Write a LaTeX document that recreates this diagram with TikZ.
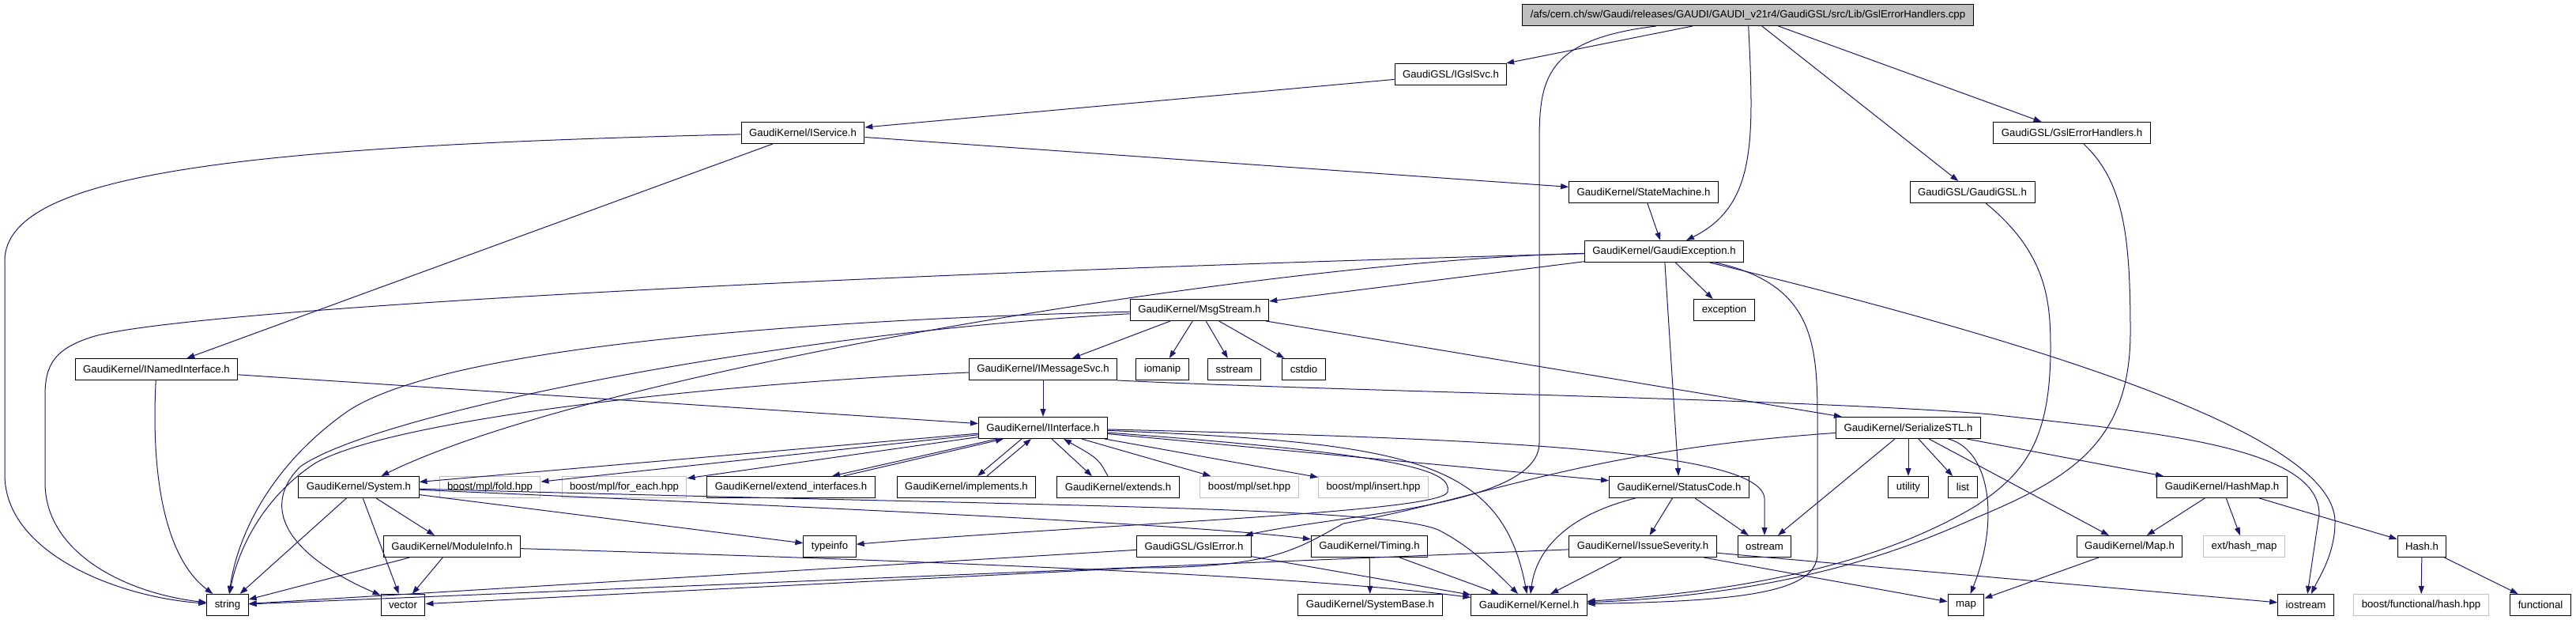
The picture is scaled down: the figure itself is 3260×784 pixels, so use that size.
\documentclass[tikz,border=0pt]{standalone}
\usepackage{fontspec}
\setmainfont{Liberation Sans}
\usetikzlibrary{arrows.meta}

\definecolor{edgeblue}{HTML}{191970}
\definecolor{boxgray}{HTML}{BFBFBF}

\begin{document}
\begin{tikzpicture}[x=1pt,y=-1pt,
  filebox/.style={draw=black, fill=white, line width=1pt, minimum height=27pt,
    inner xsep=10pt, inner ysep=0pt, font=\fontsize{13.2}{15}\selectfont},
  sysbox/.style={filebox, draw=boxgray},
  topbox/.style={filebox, fill=boxgray},
  dep/.style={draw=edgeblue, line width=1pt, -{Triangle[length=10pt,width=7pt]}}]

\useasboundingbox (0,0) rectangle (3260,784);

% Row 0: the source file
\node[topbox] (cpp) at (2212,19) {/afs/cern.ch/sw/Gaudi/releases/GAUDI/GAUDI\_v21r4/GaudiGSL/src/Lib/GslErrorHandlers.cpp};

% Rows 1 to 4
\node[filebox] (igslsvc) at (1836,94) {GaudiGSL/IGslSvc.h};
\node[filebox] (iservice) at (1016,168) {GaudiKernel/IService.h};
\node[filebox] (gslerrh) at (2622,168) {GaudiGSL/GslErrorHandlers.h};
\node[filebox] (statemachine) at (2080,243) {GaudiKernel/StateMachine.h};
\node[filebox] (gaudigsl) at (2496,243) {GaudiGSL/GaudiGSL.h};
\node[filebox] (gaudiexc) at (2106,318) {GaudiKernel/GaudiException.h};

% Row 5
\node[filebox] (msgstream) at (1518,392) {GaudiKernel/MsgStream.h};
\node[filebox] (exception) at (2182,392) {exception};

% Row 6
\node[filebox] (inamed) at (198,467) {GaudiKernel/INamedInterface.h};
\node[filebox] (imsgsvc) at (1320,467) {GaudiKernel/IMessageSvc.h};
\foreach \nd/\x in {iomanip/1471, sstream/1562, cstdio/1650}
  \node[filebox] (\nd) at (\x,467) {\nd};

% Row 7
\node[filebox] (iinterface) at (1320,541) {GaudiKernel/IInterface.h};
\node[filebox] (serialize) at (2415,541) {GaudiKernel/SerializeSTL.h};

% Row 8
\node[filebox] (system) at (454,616) {GaudiKernel/System.h};
\node[sysbox] (mplfold) at (620,616) {boost/mpl/fold.hpp};
\node[sysbox] (mplforeach) at (790,616) {boost/mpl/for\_each.hpp};
\node[filebox] (extendif) at (1001,616) {GaudiKernel/extend\_interfaces.h};
\node[filebox] (implements) at (1223,616) {GaudiKernel/implements.h};
\node[filebox] (extends) at (1415,616) {GaudiKernel/extends.h};
\node[sysbox] (mplset) at (1581,616) {boost/mpl/set.hpp};
\node[sysbox] (mplinsert) at (1738,616) {boost/mpl/insert.hpp};
\node[filebox] (statuscode) at (2125,616) {GaudiKernel/StatusCode.h};
\foreach \nd/\x in {utility/2415, list/2484}
  \node[filebox] (\nd) at (\x,616) {\nd};
\node[filebox] (hashmap) at (2812,616) {GaudiKernel/HashMap.h};

% Row 9
\node[filebox] (moduleinfo) at (572,691) {GaudiKernel/ModuleInfo.h};
\foreach \nd/\x in {typeinfo/1050, ostream/2233}
  \node[filebox] (\nd) at (\x,691) {\nd};
\node[filebox] (gslerror) at (1511,691) {GaudiGSL/GslError.h};
\node[filebox] (timing) at (1733,691) {GaudiKernel/Timing.h};
\node[filebox] (issue) at (2079,691) {GaudiKernel/IssueSeverity.h};
\node[filebox] (mapheader) at (2695,691) {GaudiKernel/Map.h};
\node[sysbox] (exthashmap) at (2840,691) {ext/hash\_map};
\node[filebox] (hash) at (3065,691) {Hash.h};

% Row 10: bottom row
\foreach \nd/\x in {string/288, vector/510, map/2488, iostream/2918, functional/3215}
  \node[filebox] (\nd) at (\x,765) {\nd};
\node[filebox] (systembase) at (1734,765) {GaudiKernel/SystemBase.h};
\node[filebox] (kernel) at (1935,765) {GaudiKernel/Kernel.h};
\node[sysbox] (boosthash) at (3064,765) {boost/functional/hash.hpp};

% Straight includes
\foreach \a/\b in {cpp/igslsvc, cpp/gaudigsl, cpp/gslerrh, igslsvc/iservice,
    iservice/inamed, iservice/statemachine, statemachine/gaudiexc,
    gaudiexc/msgstream, gaudiexc/exception, gaudiexc/statuscode,
    msgstream/imsgsvc, msgstream/iomanip, msgstream/sstream, msgstream/cstdio,
    msgstream/serialize, imsgsvc/iinterface, inamed/iinterface,
    iinterface/system, iinterface/mplfold, iinterface/mplforeach,
    iinterface/mplset, iinterface/mplinsert, iinterface/statuscode,
    system/string, system/vector, system/moduleinfo, system/typeinfo,
    moduleinfo/string, moduleinfo/vector, gslerror/string, gslerror/kernel,
    issue/string, timing/systembase, timing/kernel, statuscode/issue,
    statuscode/ostream, issue/kernel, issue/map, issue/iostream,
    serialize/ostream, serialize/utility, serialize/list, serialize/hashmap,
    serialize/mapheader, hashmap/mapheader, hashmap/exthashmap, hashmap/hash,
    mapheader/map, hash/boosthash, hash/functional}
  \draw[dep] (\a) -- (\b);

% Two-way includes round IInterface
\draw[dep] ([xshift=-58pt]iinterface.south) -- ([xshift=52pt]extendif.north);
\draw[dep] ([xshift=66pt]extendif.north) -- ([xshift=-50pt]iinterface.south);
\draw[dep] ([xshift=-27pt]iinterface.south) -- ([xshift=14pt]implements.north);
\draw[dep] ([xshift=26pt]implements.north) -- ([xshift=-15pt]iinterface.south);
\draw[dep] ([xshift=11pt]iinterface.south) -- ([xshift=-33pt]extends.north);
\draw[dep] ([xshift=-13pt]extends.north) .. controls (1390,580) .. ([xshift=26pt]iinterface.south);

% Long curved includes
\draw[dep] (cpp) .. controls (2220,180) and (2222,260) .. (gaudiexc);
\draw[dep] (cpp) .. controls (1955,50) and (1948,100) .. (1948,180) -- (1948,560)
  .. controls (1948,640) and (1700,650) .. (gslerror);
\draw[dep] (iservice) .. controls (300,185) and (6,220) .. (6,330) -- (6,600)
  .. controls (6,700) and (150,755) .. (string);
\draw[dep] (gaudiexc) .. controls (1100,345) and (250,390) .. (120,425)
  .. controls (70,440) and (57,460) .. (57,500) -- (57,610)
  .. controls (57,700) and (160,750) .. (string);
\draw[dep] (gaudiexc) .. controls (1600,330) and (750,470) .. (system);
\draw[dep] (gaudiexc) .. controls (2300,360) and (2300,440) .. (2300,540) -- (2300,700)
  .. controls (2300,750) and (2200,760) .. (kernel);
\draw[dep] (gaudiexc) .. controls (2650,450) and (2955,560) .. (2955,660)
  .. controls (2955,700) and (2935,730) .. (iostream);
\draw[dep] (imsgsvc.south east) .. controls (1700,495) and (2300,505) .. (2520,524)
  .. controls (2700,545) and (2935,560) .. (2935,650) -- (iostream);
\draw[dep] (inamed) .. controls (190,620) and (215,710) .. (string);
\draw[dep] (msgstream) .. controls (1000,405) and (560,440) .. (440,520)
  .. controls (340,590) and (300,680) .. (string);
\draw[dep] (msgstream) .. controls (1000,420) and (480,520) .. (380,590)
  .. controls (330,640) and (360,700) .. (vector);
\draw[dep] (imsgsvc) .. controls (900,485) and (500,530) .. (400,585)
  .. controls (330,630) and (300,700) .. (string);
\draw[dep] (iinterface) .. controls (1900,555) and (2228,570) .. (2233,630) -- (ostream);
\draw[dep] (iinterface) .. controls (1780,560) and (1900,580) .. (kernel);
\draw[dep] (iinterface) .. controls (1780,575) and (1838,595) .. (1832,622)
  .. controls (1825,648) and (1400,662) .. (typeinfo);
\draw[dep] (system) .. controls (1000,640) and (1500,662) .. (timing);
\draw[dep] (system) .. controls (1300,640) and (1750,640) .. (1820,670)
  .. controls (1860,690) and (1890,720) .. (kernel);
\draw[dep] (moduleinfo) .. controls (1200,710) and (1650,728) .. (kernel);
\draw[dep] (statuscode) .. controls (1990,650) and (1945,690) .. (kernel);
\draw[dep] (serialize) .. controls (2520,570) and (2530,660) .. (map);
\draw[dep] (serialize) .. controls (2000,570) and (1880,630) .. (1700,662)
  .. controls (1640,695) and (1610,718) .. (1440,718) -- (vector);
\draw[dep] (gaudigsl) .. controls (2590,320) and (2595,380) .. (2595,440)
  .. controls (2595,560) and (2560,600) .. (2500,640)
  .. controls (2400,700) and (2250,745) .. (kernel);
\draw[dep] (gslerrh) .. controls (2688,230) and (2696,300) .. (2696,420)
  .. controls (2696,560) and (2620,605) .. (2500,655)
  .. controls (2420,690) and (2280,750) .. (kernel);

\end{tikzpicture}
\end{document}
